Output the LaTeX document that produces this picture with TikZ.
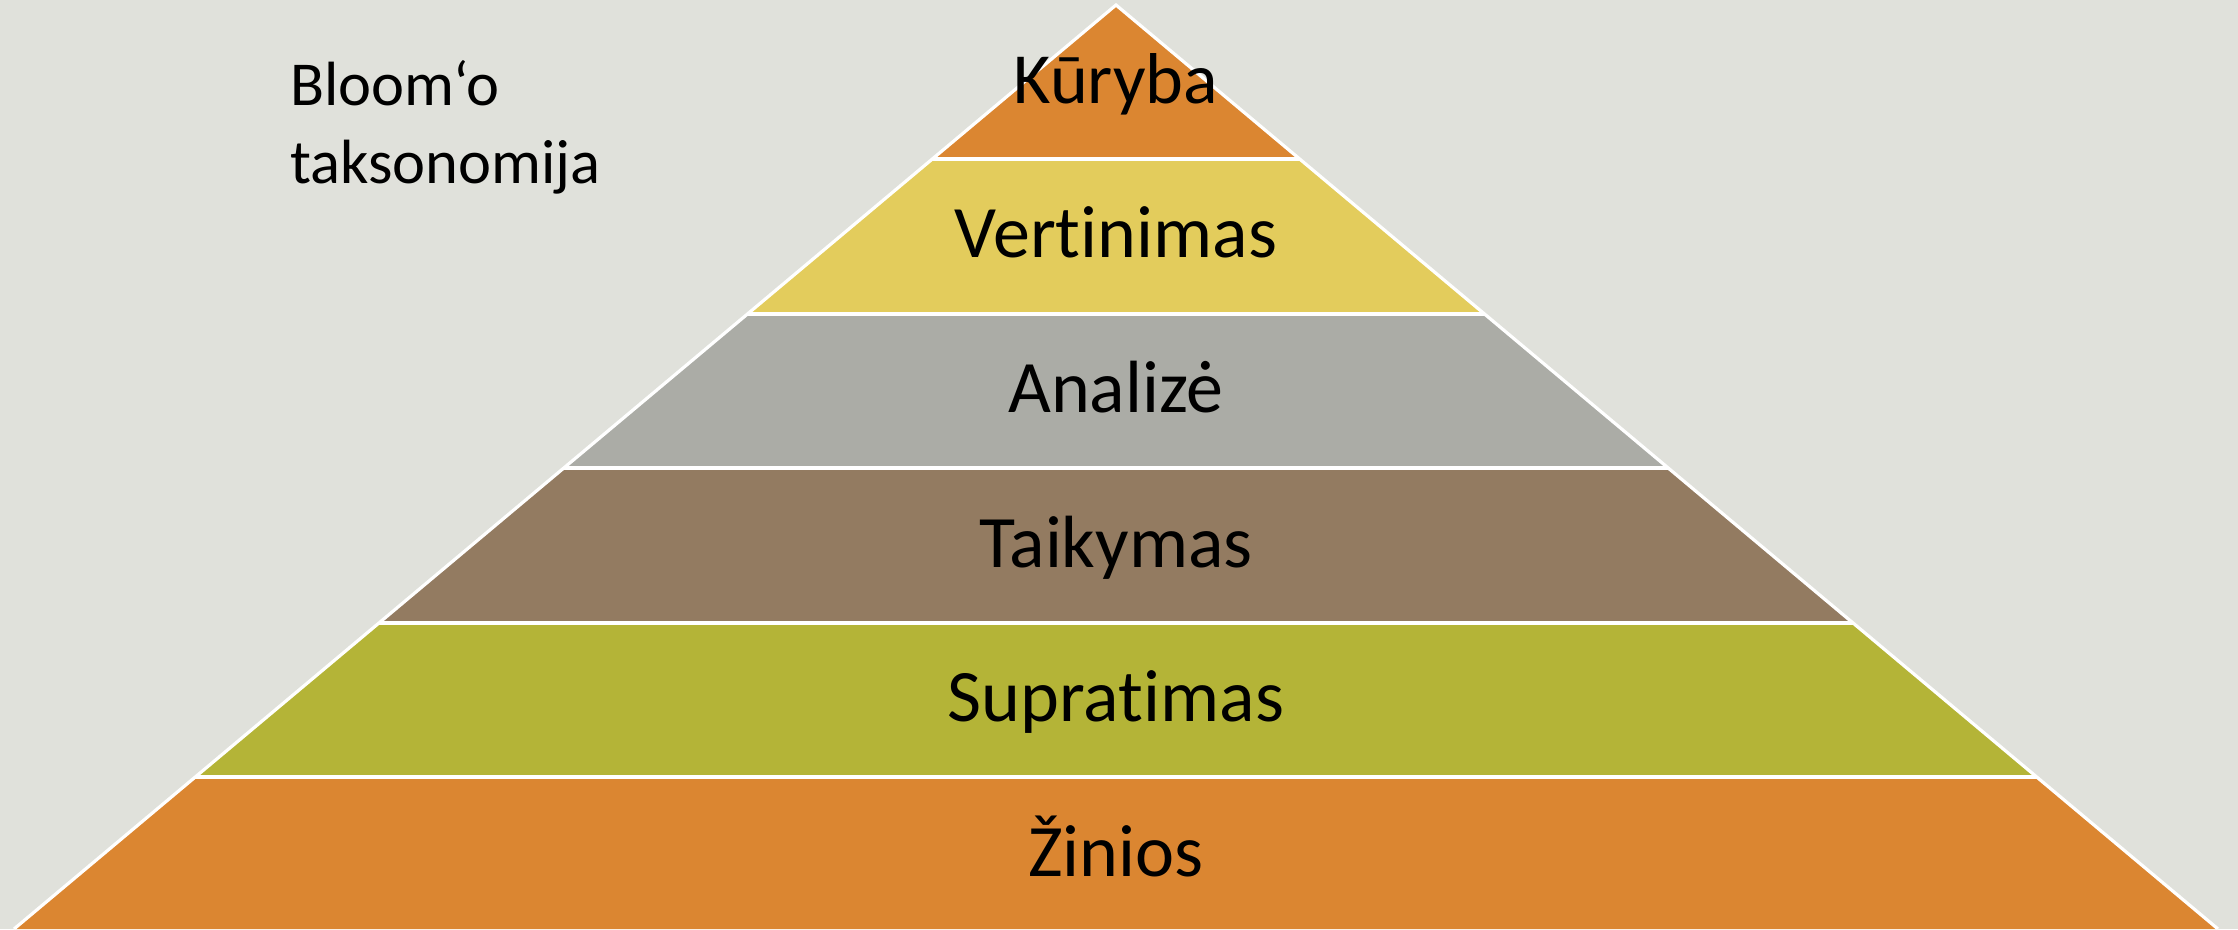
\documentclass[tikz,border=0pt]{standalone}
\usepackage{fontspec}
\setmainfont[Ligatures=NoCommon]{Carlito}
\usetikzlibrary{calc}
\definecolor{bgc}{HTML}{E0E1DB}
\definecolor{orng}{HTML}{DB8631}
\definecolor{yel}{HTML}{E3CC5C}
\definecolor{gry}{HTML}{ABACA6}
\definecolor{brn}{HTML}{937B61}
\definecolor{olv}{HTML}{B4B437}
\tikzset{
  lbl/.style={anchor=base, inner sep=0pt, font=\fontsize{74}{88}\selectfont, text=black},
  sep/.style={draw=white, line width=3.2pt},
}
\begin{document}
\begin{tikzpicture}[x=1pt,y=-1pt]
\fill[bgc] (0,0) rectangle (2238,929);
\useasboundingbox (0,0) rectangle (2238,929);
\coordinate (A) at (1116,5);
\coordinate (L) at (14,929);
\coordinate (R) at (2218,929);
\begin{scope}
\clip (A) -- (L) -- (R) -- cycle;
\fill[orng] (0,0) rectangle (2238,159);
\fill[yel] (0,159) rectangle (2238,313.5);
\fill[gry] (0,313.5) rectangle (2238,468);
\fill[brn] (0,468) rectangle (2238,623);
\fill[olv] (0,623) rectangle (2238,777.5);
\fill[orng] (0,777.5) rectangle (2238,940);
\end{scope}
\draw[sep] (L) -- (A) -- (R);
\foreach \t in {0.1667,0.3344,0.5011,0.6688,0.8355}{
  \draw[sep] ($(A)!\t!(L)$) -- ($(A)!\t!(R)$);
}
\node[lbl, font=\fontsize{72}{86}\selectfont] (k1) at (1116,103) {Kūryba};
\node[lbl] (k2) at (1116,257) {Vertinimas};
\node[lbl] (k3) at (1116,412) {Analizė};
\node[lbl] (k4) at (1116,567) {Taikymas};
\node[lbl] (k5) at (1116,721) {Supratimas};
\node[lbl] (k6) at (1116,876) {Žinios};
\node[anchor=base west, inner sep=0pt, align=left, font=\fontsize{62.5}{78}\selectfont] (title) at (290,183) {Bloom‘o\\taksonomija};
\end{tikzpicture}
\end{document}
